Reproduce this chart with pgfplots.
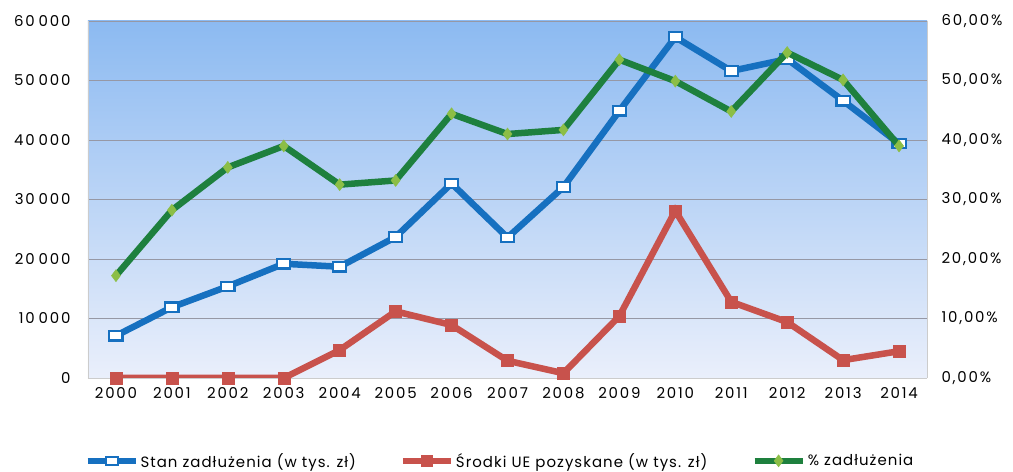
\documentclass[border=0pt]{standalone}
\usepackage{pgfplots}
\pgfplotsset{compat=1.18}
\usepackage{fontspec}
\setmainfont{Poppins}
\newfontfamily\tickfont[LetterSpace=12]{Poppins}
\newfontfamily\legfont[LetterSpace=7]{Poppins}
\definecolor{cblue}{RGB}{22,112,192}
\definecolor{cred}{RGB}{200,82,76}
\definecolor{cgreen}{RGB}{30,128,62}
\definecolor{cgreenm}{RGB}{140,190,70}
\definecolor{bgtop}{RGB}{140,186,241}
\definecolor{bgbot}{RGB}{234,239,251}
\definecolor{grid}{RGB}{150,152,165}
\pgfplotstableread{
x debt
0 7100
1 11900
2 15400
3 19200
4 18700
5 23700
6 32700
7 23600
8 32100
9 44900
10 57300
11 51600
12 53600
13 46600
14 39400
}\debt
\pgfplotstableread{
x eu
0 0
1 0
2 0
3 0
4 4700
5 11200
6 8900
7 2900
8 800
9 10400
10 28100
11 12800
12 9400
13 3000
14 4500
}\eu
\pgfplotstableread{
x pct
0 17.2
1 28.2
2 35.4
3 39.0
4 32.5
5 33.2
6 44.4
7 41.0
8 41.7
9 53.5
10 49.9
11 44.8
12 54.7
13 50.1
14 39.0
}\pct
\newcommand{\tn}[1]{\hbox{#1}\kern4bp\hbox{000}}
\begin{document}
\begin{tikzpicture}
\pgfplotsset{
  every axis/.append style={
    scale only axis, width=839bp, height=357bp,
    xmin=-0.5, xmax=14.5,
    ymin=0,
    major tick length=0pt,
    tick label style={font=\tickfont\fontsize{15}{17}\selectfont},
    /pgf/number format/assume math mode=true,
  },
  mylegimg/.style={legend image code/.code={
    \draw[mark repeat=2,mark phase=2] plot coordinates {(0bp,0bp)(24bp,0bp)(48bp,0bp)};}},
}
\begin{axis}[
  ymax=60000,
  ytick={0,10000,20000,30000,40000,50000,60000},
  yticklabels={0,\tn{10},\tn{20},\tn{30},\tn{40},\tn{50},\tn{60}},
  scaled y ticks=false,
  yticklabel style={xshift=-14bp},
  xtick=data, xticklabels={2000,2001,2002,2003,2004,2005,2006,2007,2008,2009,2010,2011,2012,2013,2014},
  xticklabel style={yshift=-6bp},
  axis y line*=left,
  axis x line*=bottom,
  axis line style={draw=gray!40, line width=0.6pt},
  ymajorgrids, grid style={draw=grid, line width=0.7pt},
  axis background/.style={top color=bgtop, bottom color=bgbot},
]
\addplot[cblue, line width=6.5bp, mark=square*, mark size=5.5bp,
  mark options={fill=white, draw=cblue, line width=2.2bp, xscale=1.2, yscale=0.85}] table[x=x,y=debt] {\debt};
\addplot[cred, line width=6.5bp, mark=square*, mark size=6bp,
  mark options={fill=cred, draw=cred, line width=0.5bp}] table[x=x,y=eu] {\eu};
\end{axis}
\begin{axis}[
  ymax=60,
  ytick={0,10,...,60},
  yticklabel={\pgfmathprintnumber[fixed,fixed zerofill,precision=2,use comma,assume math mode=true]{\tick}\%},
  yticklabel style={xshift=11bp},
  axis y line*=right,
  axis x line=none,
  axis line style={draw=gray!40, line width=0.6pt},
  legend style={at={(axis description cs:0.491,-0.232)}, anchor=center,
    draw=none, fill=none, legend columns=3,
    font=\legfont\fontsize{15}{17}\selectfont,
    /tikz/every even column/.append style={column sep=42bp},
    inner sep=0pt},
  mylegimg,
]
\addlegendimage{cblue, line width=6bp, mark=square*, mark size=5bp,
  mark options={fill=white, draw=cblue, line width=2bp, xscale=1.2, yscale=0.85}}
\addlegendentry{Stan zadłużenia (w tys. zł)}
\addlegendimage{cred, line width=6bp, mark=square*, mark size=5.5bp,
  mark options={fill=cred, draw=cred, line width=0.5bp}}
\addlegendentry{Środki UE pozyskane (w tys. zł)}
\addplot[cgreen, line width=6.5bp, mark=diamond*, mark size=6bp,
  mark options={fill=cgreenm, draw=cgreenm, line width=0.5bp}] table[x=x,y=pct] {\pct};
\addlegendentry{\% zadłużenia}
\end{axis}
\pgfresetboundingbox
\useasboundingbox (-88bp,-94bp) rectangle (925bp,378bp);
\end{tikzpicture}
\end{document}
